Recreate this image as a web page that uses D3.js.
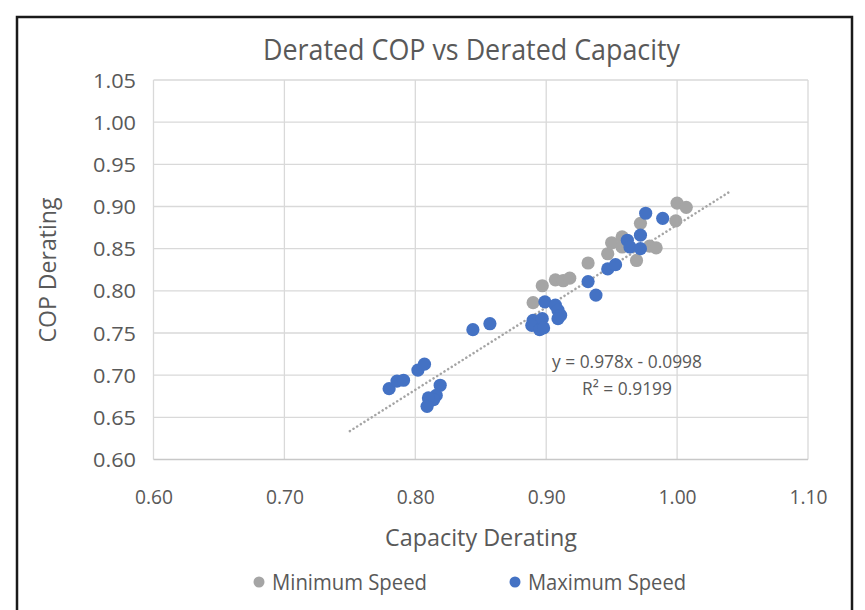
<!DOCTYPE html>
<html>
<head>
<meta charset="utf-8">
<script src="https://cdn.jsdelivr.net/npm/d3@7"></script>
<style>
  html, body { margin: 0; padding: 0; background: #fff; }
  svg { display: block; }
  text { font-family: "Open Sans", "Noto Sans", sans-serif; fill: #595959; }
</style>
</head>
<body>
<svg id="chart" width="865" height="610"></svg>
<script>
// ---- data ----
const minSpeedX = [0.890, 0.897, 0.907, 0.913, 0.918, 0.932, 0.947, 0.950, 0.958, 0.958, 0.972, 0.969, 0.979, 0.984, 1.000, 1.007, 0.999];
const minSpeedY = [0.786, 0.806, 0.813, 0.812, 0.815, 0.833, 0.844, 0.857, 0.864, 0.852, 0.880, 0.836, 0.853, 0.851, 0.904, 0.899, 0.883];

const maxSpeedX = [0.780, 0.786, 0.791, 0.802, 0.807, 0.819, 0.816, 0.814, 0.810, 0.809, 0.844, 0.857,
                   0.899, 0.890, 0.893, 0.897, 0.889, 0.895, 0.898, 0.907, 0.909, 0.911, 0.909,
                   0.932, 0.938, 0.947, 0.953, 0.962, 0.964, 0.972, 0.972, 0.976, 0.989];
const maxSpeedY = [0.684, 0.693, 0.694, 0.706, 0.713, 0.688, 0.676, 0.671, 0.673, 0.663, 0.754, 0.761,
                   0.787, 0.765, 0.761, 0.767, 0.759, 0.754, 0.756, 0.783, 0.777, 0.771, 0.767,
                   0.811, 0.795, 0.826, 0.831, 0.860, 0.852, 0.866, 0.850, 0.892, 0.886];

const xTicks = [0.60, 0.70, 0.80, 0.90, 1.00, 1.10];
const yTicks = [0.60, 0.65, 0.70, 0.75, 0.80, 0.85, 0.90, 0.95, 1.00, 1.05];

const trendSlope = 0.978;
const trendIntercept = -0.0998;
const trendRange = [0.75, 1.04];
const trendLabels = ["y = 0.978x - 0.0998", "R² = 0.9199"];

const seriesNames = ["Minimum Speed", "Maximum Speed"];
const seriesColors = ["#a5a5a5", "#4472c4"];

// ---- layout ----
const svg = d3.select("#chart");
const L = 153.5, T = 80, R = 808, B = 459.5;

const x = d3.scaleLinear().domain([0.60, 1.10]).range([L, R]);
const y = d3.scaleLinear().domain([0.60, 1.05]).range([B, T]);

// outer border
svg.append("path")
  .attr("d", `M17,612 L17,17 L852,17 L852,612`)
  .attr("fill", "none").attr("stroke", "#1a1a1a").attr("stroke-width", 2.5);

// gridlines
const grid = svg.append("g");
grid.selectAll("line.v").data(xTicks).join("line")
  .attr("x1", d => x(d)).attr("x2", d => x(d))
  .attr("y1", T).attr("y2", B)
  .attr("stroke", "#d9d9d9").attr("stroke-width", 1.3);
grid.selectAll("line.h").data(yTicks).join("line")
  .attr("x1", L).attr("x2", R)
  .attr("y1", d => y(d)).attr("y2", d => y(d))
  .attr("stroke", d => d === 0.60 ? "#c8c8c8" : "#d9d9d9").attr("stroke-width", 1.3);

// axes (labels only)
const xAxis = d3.axisBottom(x).tickValues(xTicks).tickFormat(d3.format(".2f")).tickSize(0).tickPadding(0);
const gx = svg.append("g").attr("transform", `translate(0,${B})`).call(xAxis);
gx.select(".domain").remove();
gx.selectAll("text").attr("dy", null).attr("y", 44)
  .style("font-size", "20px").attr("fill", "#595959")
  .attr("textLength", 38).attr("lengthAdjust", "spacingAndGlyphs");

const yAxis = d3.axisLeft(y).tickValues(yTicks).tickFormat(d3.format(".2f")).tickSize(0).tickPadding(0);
const gy = svg.append("g").attr("transform", `translate(136,0)`).call(yAxis);
gy.select(".domain").remove();
gy.selectAll("text").attr("x", 0).attr("dy", "0.35em")
  .style("font-size", "20px").attr("fill", "#595959")
  .attr("textLength", 43).attr("lengthAdjust", "spacingAndGlyphs");

// trendline
svg.append("line")
  .attr("x1", x(trendRange[0])).attr("y1", y(trendSlope * trendRange[0] + trendIntercept))
  .attr("x2", x(trendRange[1])).attr("y2", y(trendSlope * trendRange[1] + trendIntercept))
  .attr("stroke", "#a5a5a5").attr("stroke-width", 2.5)
  .attr("stroke-dasharray", "0.1,4.2").attr("stroke-linecap", "round");

// points
const minData = minSpeedX.map((v, i) => [v, minSpeedY[i]]);
const maxData = maxSpeedX.map((v, i) => [v, maxSpeedY[i]]);
svg.append("g").selectAll("circle").data(minData).join("circle")
  .attr("cx", d => x(d[0])).attr("cy", d => y(d[1])).attr("r", 6.6)
  .attr("fill", seriesColors[0]);
svg.append("g").selectAll("circle").data(maxData).join("circle")
  .attr("cx", d => x(d[0])).attr("cy", d => y(d[1])).attr("r", 6.6)
  .attr("fill", seriesColors[1]);

// trend labels
svg.append("text").attr("x", 627).attr("y", 368).attr("text-anchor", "middle")
  .style("font-size", "18.5px").attr("textLength", 150).attr("lengthAdjust", "spacingAndGlyphs")
  .text(trendLabels[0]);
svg.append("text").attr("x", 627).attr("y", 395).attr("text-anchor", "middle")
  .style("font-size", "18.5px").attr("textLength", 90).attr("lengthAdjust", "spacingAndGlyphs")
  .text(trendLabels[1]);

// title
svg.append("text").attr("x", 471.5).attr("y", 60).attr("text-anchor", "middle")
  .style("font-size", "30px").attr("textLength", 417).attr("lengthAdjust", "spacingAndGlyphs")
  .text("Derated COP vs Derated Capacity");

// axis titles
svg.append("text").attr("x", 481).attr("y", 546).attr("text-anchor", "middle")
  .style("font-size", "24px").attr("textLength", 192).attr("lengthAdjust", "spacingAndGlyphs")
  .text("Capacity Derating");
svg.append("text").attr("transform", "translate(56,270) rotate(-90)").attr("text-anchor", "middle")
  .style("font-size", "24px").attr("textLength", 145).attr("lengthAdjust", "spacingAndGlyphs")
  .text("COP Derating");

// legend
const legend = svg.append("g");
const legX = [259, 515];
const legTextW = [155, 158];
seriesNames.forEach((n, i) => {
  legend.append("circle").attr("cx", legX[i]).attr("cy", 582).attr("r", 5.5).attr("fill", seriesColors[i]);
  legend.append("text").attr("x", legX[i] + 13).attr("y", 590)
    .style("font-size", "22px").attr("textLength", legTextW[i]).attr("lengthAdjust", "spacingAndGlyphs")
    .text(n);
});
</script>
</body>
</html>
